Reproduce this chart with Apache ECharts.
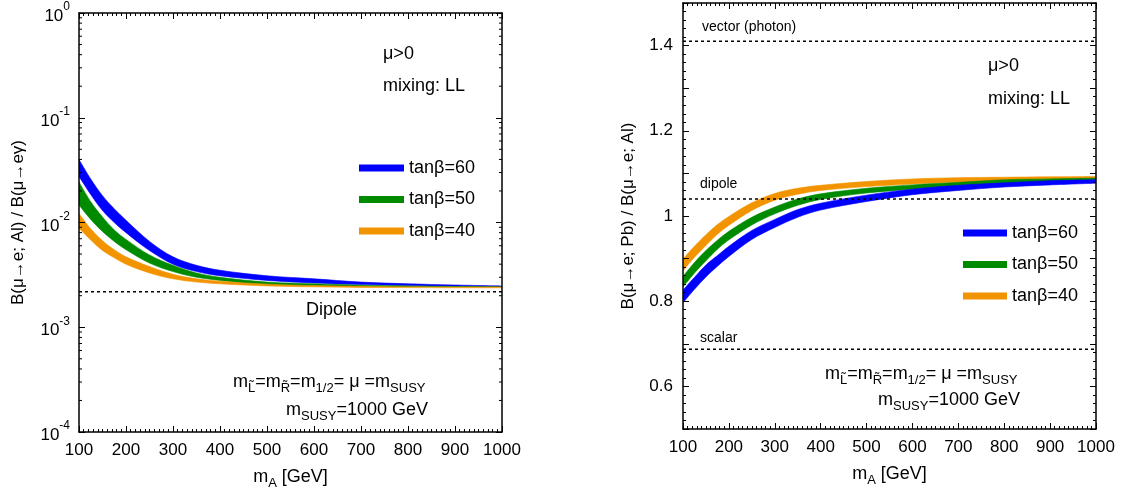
<!DOCTYPE html>
<html>
<head>
<meta charset="utf-8">
<script src="https://cdn.jsdelivr.net/npm/echarts@6/dist/echarts.min.js"></script>
<style>html,body{margin:0;padding:0;background:#fff;}#c{width:1141px;height:495px;}</style>
</head>
<body>
<div id="c"></div>
<script>
// ---------- data ----------
const mA = [100,125,150,175,200,250,300,350,400,500,600,700,800,900,1000];

// Left panel: B(mu->e; Al)/B(mu->e gamma), band lower / upper edges
const alTan60Lo = [0.0275,0.0185,0.0130,0.0100,0.0080,0.0054,0.0040,0.0034,0.0031,0.0028,0.00265,0.00256,0.0025,0.00246,0.00242];
const alTan60Hi = [0.040,0.026,0.018,0.0135,0.0105,0.0066,0.0047,0.0039,0.0035,0.0031,0.0029,0.0027,0.0026,0.00253,0.00248];
const alTan50Lo = [0.0147,0.0107,0.0082,0.0066,0.0055,0.0041,0.0034,0.0030,0.0028,0.00255,0.00248,0.00244,0.00242,0.0024,0.0024];
const alTan50Hi = [0.0244,0.0158,0.0113,0.0085,0.0069,0.0049,0.0039,0.0033,0.0030,0.0027,0.0026,0.00252,0.00248,0.00245,0.00244];
const alTan40Lo = [0.0088,0.0068,0.0054,0.0046,0.0040,0.0033,0.0029,0.0027,0.0026,0.00248,0.00243,0.0024,0.00239,0.00238,0.00238];
const alTan40Hi = [0.0122,0.0087,0.0067,0.0055,0.0047,0.0038,0.0032,0.0029,0.00275,0.00258,0.0025,0.00246,0.00243,0.00242,0.00242];
const alDipole = 0.00218;

// Right panel: B(mu->e; Pb)/B(mu->e; Al)
const pbTan60Lo = [0.796,0.828,0.857,0.882,0.905,0.945,0.973,0.997,1.014,1.034,1.050,1.060,1.068,1.073,1.077];
const pbTan60Hi = [0.826,0.856,0.885,0.907,0.929,0.966,0.992,1.015,1.030,1.049,1.063,1.072,1.078,1.083,1.085];
const pbTan50Lo = [0.833,0.866,0.895,0.922,0.944,0.979,1.005,1.025,1.039,1.054,1.063,1.069,1.075,1.079,1.081];
const pbTan50Hi = [0.858,0.891,0.919,0.943,0.964,0.997,1.021,1.040,1.052,1.065,1.073,1.079,1.085,1.087,1.089];
const pbTan40Lo = [0.871,0.903,0.931,0.957,0.978,1.013,1.037,1.051,1.060,1.069,1.075,1.080,1.083,1.085,1.086];
const pbTan40Hi = [0.899,0.929,0.956,0.980,0.999,1.031,1.053,1.065,1.072,1.081,1.087,1.090,1.091,1.092,1.093];
const pbRefLines = [1.41, 1.04, 0.687];   // vector (photon), dipole, scalar

const legendNames = ['tanβ=60','tanβ=50','tanβ=40'];
const colors = ['#0000ff','#008a00','#f29400'];
const logMantissas = [2,3,4,5,6,7,8,9];
const logDecades = [-4,-3,-2,-1];
const pbLabelTicks = [0.6,0.8,1,1.2,1.4];

// ---------- helpers ----------
const FONT = 'Liberation Sans, Arial, Helvetica, sans-serif';
const pairs = (ys) => mA.map((x,i)=>[x, ys[i]]);

let zc = 2;
function band(name, color, lo, hi, xi, yi) {
  const common = {
    type:'line', xAxisIndex:xi, yAxisIndex:yi, smooth:0.35,
    symbol:'none', silent:true, animation:false
  };
  const s1 = Object.assign({}, common, {
    name:name, z:zc++, data:pairs(hi),
    itemStyle:{color:color}, lineStyle:{color:color, width:0.6},
    areaStyle:{color:color, opacity:1, origin:'start'}
  });
  const s2 = Object.assign({}, common, {
    name:name+' (lower)', z:zc++, data:pairs(lo),
    itemStyle:{color:color}, lineStyle:{color:color, width:0.6},
    areaStyle:{color:'#ffffff', opacity:1, origin:'start'}
  });
  return [s1, s2];
}

const minorLogValues = [];
logDecades.forEach(d => logMantissas.forEach(m => minorLogValues.push(m*Math.pow(10,d))));

const subRich = {
  b:{fontSize:18, fontFamily:FONT, fontWeight:'normal', color:'#000', lineHeight:22, verticalAlign:'top'},
  s:{fontSize:13, fontFamily:FONT, fontWeight:'normal', color:'#000', lineHeight:22, verticalAlign:'bottom'}
};

function axisX(grid, pos, showLabel) {
  return {
    gridIndex:grid, type:'value', min:100, max:1000, interval:100, position:pos, z:30,
    axisLine:{show:true, onZero:false, lineStyle:{color:'#000', width:1.5}},
    axisTick:{show:true, inside:true, length:6, lineStyle:{color:'#000', width:1}},
    minorTick:{show:true, splitNumber:10, length:3, lineStyle:{color:'#000', width:1}},
    splitLine:{show:false}, minorSplitLine:{show:false},
    axisLabel:{show:showLabel, fontSize:17, color:'#000', fontFamily:FONT, margin:10, formatter:(v)=>String(v)},
    name: showLabel ? '{b|m}{s|A}{b| [GeV]}' : '',
    nameLocation:'middle', nameGap:36,
    nameTextStyle:{rich:subRich}
  };
}

function titleText(text, left, top, size) {
  return {text:text, left:left, top:top, padding:0, z:50,
    textStyle:{fontSize:size, fontWeight:'normal', fontFamily:FONT, color:'#000', rich:subRich}};
}

const option = {
  backgroundColor:'#fff',
  animation:false,
  grid:[
    {left:79, top:13, width:423, height:423},
    {left:683, top:3, width:413, height:426}
  ],
  xAxis:[ axisX(0,'bottom',true), axisX(0,'top',false), axisX(1,'bottom',true), axisX(1,'top',false) ],
  yAxis:[
    {
      gridIndex:0, type:'log', logBase:10, min:1e-4, max:1, position:'left', z:30,
      axisLine:{show:true, lineStyle:{color:'#000', width:1.5}},
      axisTick:{show:true, inside:true, length:6, lineStyle:{color:'#000'}},
      splitLine:{show:false},
      axisLabel:{
        color:'#000', margin:9,
        formatter:(v)=>'{b|10}{s|' + Math.round(Math.log10(v)) + '}',
        rich:{
          b:{fontSize:17, fontFamily:FONT, color:'#000', lineHeight:24, verticalAlign:'bottom'},
          s:{fontSize:12, fontFamily:FONT, color:'#000', lineHeight:24, verticalAlign:'top'}
        }
      },
      name:'B(μ→e; Al) / B(μ→eγ)', nameLocation:'middle', nameGap:52,
      nameTextStyle:{fontSize:17, fontFamily:FONT, color:'#000'}
    },
    {
      gridIndex:0, type:'log', logBase:10, min:1e-4, max:1, position:'right', z:30,
      axisLine:{show:true, lineStyle:{color:'#000', width:1.5}},
      axisTick:{show:true, inside:true, length:6, lineStyle:{color:'#000'}},
      splitLine:{show:false}, axisLabel:{show:false}
    },
    {
      gridIndex:1, type:'value', min:0.5, max:1.5, interval:0.1, position:'left', z:30,
      axisLine:{show:true, onZero:false, lineStyle:{color:'#000', width:1.5}},
      axisTick:{show:true, inside:true, length:6, lineStyle:{color:'#000'}},
      minorTick:{show:true, splitNumber:5, length:3, lineStyle:{color:'#000'}},
      splitLine:{show:false},
      axisLabel:{
        fontSize:17, color:'#000', fontFamily:FONT, margin:10,
        formatter:(v)=>{
          const r = Math.round(v*10)/10;
          return pbLabelTicks.some(t=>Math.abs(t-r)<1e-6) ? String(r) : '';
        }
      },
      name:'B(μ→e; Pb) / B(μ→e; Al)', nameLocation:'middle', nameGap:46,
      nameTextStyle:{fontSize:17, fontFamily:FONT, color:'#000'}
    },
    {
      gridIndex:1, type:'value', min:0.5, max:1.5, interval:0.1, position:'right', z:30,
      axisLine:{show:true, onZero:false, lineStyle:{color:'#000', width:1.5}},
      axisTick:{show:true, inside:true, length:6, lineStyle:{color:'#000'}},
      minorTick:{show:true, splitNumber:5, length:3, lineStyle:{color:'#000'}},
      splitLine:{show:false}, axisLabel:{show:false}
    }
  ],
  legend:[
    {
      data:legendNames, orient:'vertical', left:354, top:154, itemWidth:45, itemHeight:7,
      itemGap:13.5, icon:'rect', selectedMode:false, z:50,
      textStyle:{fontSize:18, fontFamily:FONT, color:'#000'}
    },
    {
      data:legendNames, orient:'vertical', left:958, top:219, itemWidth:44, itemHeight:7,
      itemGap:13.5, icon:'rect', selectedMode:false, z:50,
      textStyle:{fontSize:18, fontFamily:FONT, color:'#000'}
    }
  ],
  title:[
    titleText('μ>0', 383, 45, 18),
    titleText('mixing: LL', 383, 77, 18),
    titleText('Dipole', 306, 301, 18),
    titleText('{b|m}{s|L̃}{b|=m}{s|R̃}{b|=m}{s|1/2}{b|= μ =m}{s|SUSY}', 233, 373, 18),
    titleText('{b|m}{s|SUSY}{b|=1000 GeV}', 286, 401, 18),

    titleText('vector (photon)', 702, 20, 14),
    titleText('μ>0', 988, 57, 18),
    titleText('mixing: LL', 988, 90, 18),
    titleText('dipole', 700, 177, 14),
    titleText('scalar', 700, 331, 14),
    titleText('{b|m}{s|L̃}{b|=m}{s|R̃}{b|=m}{s|1/2}{b|= μ =m}{s|SUSY}', 825, 365, 18),
    titleText('{b|m}{s|SUSY}{b|=1000 GeV}', 878, 391, 18)
  ],
  series:[]
};

// bands (drawn top band first; each band's white lower fill clears beneath it)
const alBands = [[alTan60Lo,alTan60Hi],[alTan50Lo,alTan50Hi],[alTan40Lo,alTan40Hi]];
const pbBands = [[pbTan60Lo,pbTan60Hi],[pbTan50Lo,pbTan50Hi],[pbTan40Lo,pbTan40Hi]];
[0,1,2].forEach(i => {
  option.series.push(...band(legendNames[i], colors[i], alBands[i][0], alBands[i][1], 0, 0));
});
[2,1,0].forEach(i => {
  option.series.push(...band(legendNames[i], colors[i], pbBands[i][0], pbBands[i][1], 2, 2));
});

// dashed reference lines
option.series.push({
  type:'line', xAxisIndex:0, yAxisIndex:0, symbol:'none', silent:true, z:25,
  data:[[100,alDipole],[1000,alDipole]],
  lineStyle:{color:'#000', width:1.5, type:[3,3]}
});
pbRefLines.forEach(v => option.series.push({
  type:'line', xAxisIndex:2, yAxisIndex:2, symbol:'none', silent:true, z:25,
  data:[[100,v],[1000,v]],
  lineStyle:{color:'#000', width:1.5, type:[3,3]}
}));

// log-axis minor ticks on the left panel (both sides)
option.series.push({
  type:'custom', xAxisIndex:0, yAxisIndex:0, silent:true, z:30,
  data: minorLogValues.map(v=>[100,v]),
  renderItem:(params, api)=>{
    const v = api.value(1);
    const pL = api.coord([100, v]);
    const pR = api.coord([1000, v]);
    return {type:'group', children:[
      {type:'line', shape:{x1:pL[0], y1:pL[1], x2:pL[0]+3, y2:pL[1]}, style:{stroke:'#000', lineWidth:1}},
      {type:'line', shape:{x1:pR[0], y1:pR[1], x2:pR[0]-3, y2:pR[1]}, style:{stroke:'#000', lineWidth:1}}
    ]};
  }
});

const chart = echarts.init(document.getElementById('c'), null, {renderer:'canvas'});
chart.setOption(option);
</script>
</body>
</html>
